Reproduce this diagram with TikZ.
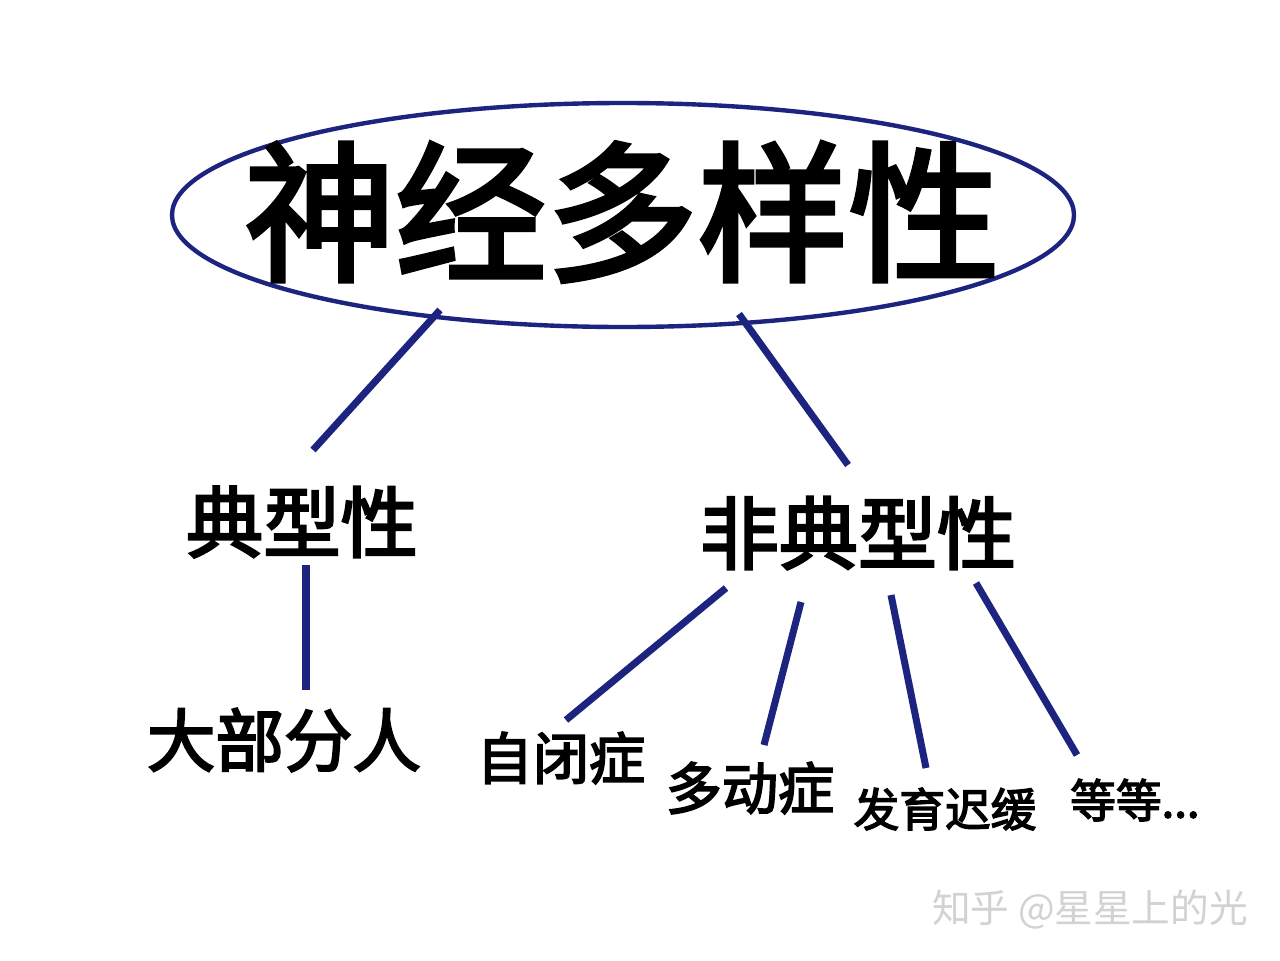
\documentclass[tikz,border=0pt]{standalone}
\usepackage{fontspec}
\setmainfont{Noto Sans CJK SC}
\newfontfamily\heavy{Noto Sans CJK SC}[FakeBold=3]
\usetikzlibrary{calc}
\definecolor{navy}{RGB}{28,36,128}

\begin{document}
\begin{tikzpicture}[x=0.02cm,y=-0.02cm]
  \useasboundingbox[fill=white] (0,0) rectangle (1280,960);

  % Oberbegriff im Oval
  \draw[navy, line width=2.5pt] (623,215) ellipse [x radius=451, y radius=112];
  \node (N) at (622,212) {\fontsize{86}{90}\heavy 神经多样性};

  % zwei Zweige
  \node (T) at (302,522) {\fontsize{44}{48}\heavy 典型性};
  \node (A) at (858,533) {\fontsize{45}{48}\heavy 非典型性};

  % Blätter
  \node (M) at (284,740) {\fontsize{39}{42}\heavy 大部分人};
  \node (Z) at (561,758) {\fontsize{32}{36}\heavy 自闭症};
  \node (D) at (750,788) {\fontsize{32}{36}\heavy 多动症};
  \node (F) at (945,809) {\fontsize{26}{30}\heavy 发育迟缓};
  \node[anchor=west] (E) at (1064,800) {\fontsize{26}{30}\heavy 等等...};

  % Wasserzeichen
  \node[gray!35] (W) at (1090,910) {\fontsize{22}{26}\selectfont 知乎 @星星上的光};

  % Linienenden
  \coordinate (n1) at (440,310);  \coordinate (t1) at (313,450);
  \coordinate (n2) at (739,314);  \coordinate (a1) at (848,465);
  \coordinate (t2) at (306,565);  \coordinate (m1) at (306,690);
  \coordinate (a2) at (726,588);  \coordinate (z1) at (566,720);
  \coordinate (a3) at (801,602);  \coordinate (d1) at (764,745);
  \coordinate (a4) at (891,595);  \coordinate (f1) at (926,768);
  \coordinate (a5) at (976,583);  \coordinate (e1) at (1077,755);

  \draw[navy, line width=4pt] (n1) -- (t1);
  \draw[navy, line width=4pt] (n2) -- (a1);
  \draw[navy, line width=4pt] (t2) -- (m1);
  \draw[navy, line width=4pt] (a2) -- (z1);
  \draw[navy, line width=4pt] (a3) -- (d1);
  \draw[navy, line width=4pt] (a4) -- (f1);
  \draw[navy, line width=4pt] (a5) -- (e1);
\end{tikzpicture}
\end{document}
